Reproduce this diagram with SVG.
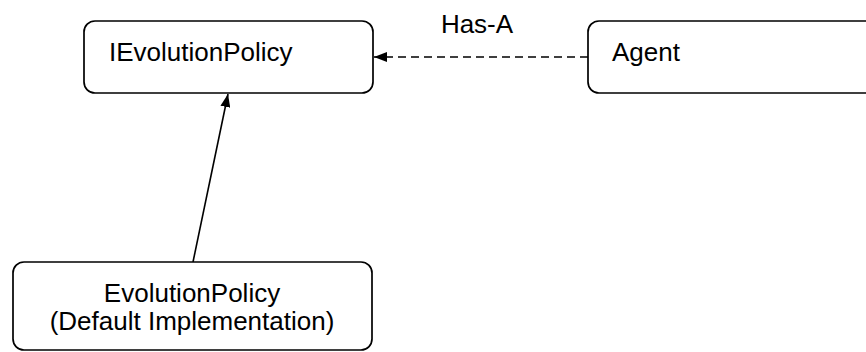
<svg xmlns="http://www.w3.org/2000/svg" width="866" height="352" viewBox="0 0 866 352">
  <style>
    .box { fill: #ffffff; stroke: #000000; stroke-width: 1.7; }
    .label { font-family: "Liberation Sans", Arial, sans-serif; font-size: 26px; fill: #000000; }
    .mid { text-anchor: middle; }
    .edge { fill: none; stroke: #000000; stroke-width: 1.6; }
    .dashed { stroke-dasharray: 8 5; }
  </style>
  <defs>
    <marker id="arrow" viewBox="0 0 13 10" refX="13" refY="5" markerWidth="13" markerHeight="10" markerUnits="userSpaceOnUse" orient="auto">
      <path d="M0,0 L13,5 L0,10 Z" fill="#000000"/>
    </marker>
  </defs>
  <rect width="866" height="352" fill="#ffffff"/>

  <g id="connectors">
    <!-- Agent has-a IEvolutionPolicy -->
    <line class="edge dashed" x1="588" y1="57" x2="374" y2="57" marker-end="url(#arrow)"/>
    <text class="label mid" x="477" y="33">Has-A</text>
    <!-- EvolutionPolicy implements IEvolutionPolicy -->
    <line class="edge" x1="193" y1="262" x2="228" y2="94" marker-end="url(#arrow)"/>
  </g>

  <g id="iEvolutionPolicy">
    <rect class="box" x="84" y="21" width="289" height="72" rx="11" ry="11"/>
    <text class="label" x="109" y="61">IEvolutionPolicy</text>
  </g>

  <g id="agent">
    <rect class="box" x="588" y="21" width="300" height="72" rx="11" ry="11"/>
    <text class="label" x="612" y="61">Agent</text>
  </g>

  <g id="evolutionPolicy">
    <rect class="box" x="13" y="262" width="359" height="88" rx="11" ry="11"/>
    <text class="label mid" x="192" y="302">EvolutionPolicy</text>
    <text class="label mid" x="192" y="330">(Default Implementation)</text>
  </g>
</svg>
